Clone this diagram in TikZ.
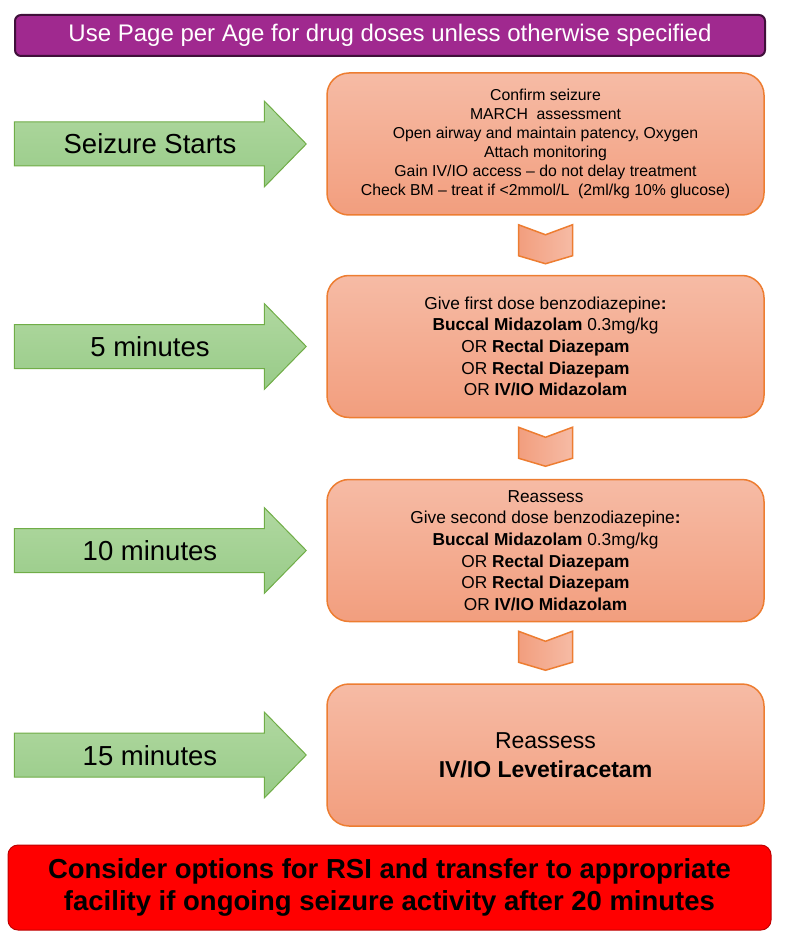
\documentclass[tikz,border=0pt]{standalone}
\usepackage{fontspec}
\setmainfont{Liberation Sans}
\usetikzlibrary{calc}
\definecolor{purplefill}{RGB}{160,41,143}
\definecolor{purpleborder}{RGB}{64,16,58}
\definecolor{boxtop}{RGB}{246,187,165}
\definecolor{boxbottom}{RGB}{242,158,126}
\definecolor{boxborder}{RGB}{237,125,49}
\definecolor{greentop}{RGB}{176,216,160}
\definecolor{greenbottom}{RGB}{152,203,136}
\definecolor{greenborder}{RGB}{112,173,71}
\definecolor{redborder}{RGB}{192,0,0}
\tikzset{
  topbar/.style={draw=purpleborder, line width=2pt, fill=purplefill, rounded corners=6pt,
    text=white, font=\fontsize{24}{26}\selectfont, minimum width=750pt, minimum height=41pt, inner sep=0pt},
  stepbox/.style={draw=boxborder, line width=1.5pt, top color=boxtop, bottom color=boxbottom,
    rounded corners=22pt, minimum width=437pt, minimum height=142pt, align=center, inner sep=0pt},
  timelabel/.style={font=\fontsize{27.5}{30}\selectfont, inner sep=0pt},
  redbox/.style={draw=redborder, line width=1pt, fill=red, rounded corners=10pt,
    minimum width=763pt, minimum height=85pt, align=center, inner sep=0pt,
    font=\bfseries\fontsize{27.5}{32}\selectfont},
  chevstyle/.style={draw=boxborder, line width=1.5pt, left color=boxbottom, right color=boxtop},
  arrowstyle/.style={draw=greenborder, line width=1pt, top color=greentop, bottom color=greenbottom}
}
\newcommand\chevron[1]{%
  \shadedraw[chevstyle] ($(#1.south)+(-27,9)$) -- ($(#1.south)+(0,19)$) -- ($(#1.south)+(27,9)$)
    -- ($(#1.south)+(27,40)$) -- ($(#1.south)+(0,48)$) -- ($(#1.south)+(-27,40)$) -- cycle;}
\newcommand\greenarrow[1]{%
  \shadedraw[arrowstyle] ($(#1.west)+(-312,-22)$) -- ($(#1.west)+(-62,-22)$) -- ($(#1.west)+(-62,-43)$)
    -- ($(#1.west)+(-20,0)$) -- ($(#1.west)+(-62,43)$) -- ($(#1.west)+(-62,22)$)
    -- ($(#1.west)+(-312,22)$) -- cycle;}
\begin{document}
\begin{tikzpicture}[x=1pt,y=-1pt]
\useasboundingbox (0,0) rectangle (784,941);
\node[topbar] (top) at (390,35.5) {Use Page per Age for drug doses unless otherwise specified};

\node[stepbox, font=\fontsize{15.8}{19}\selectfont] (b1) at (545.5,144) {Confirm seizure\\MARCH~ assessment\\Open airway and maintain patency, Oxygen\\Attach monitoring\\Gain IV/IO access -- do not delay treatment\\Check BM -- treat if <2mmol/L~ (2ml/kg 10\% glucose)};
\node[stepbox, font=\fontsize{17.3}{21.7}\selectfont] (b2) at (545.5,346.5) {Give first dose benzodiazepine\textbf{:}\\\textbf{Buccal Midazolam} 0.3mg/kg\\OR \textbf{Rectal Diazepam}\\OR \textbf{Rectal Diazepam}\\OR \textbf{IV/IO Midazolam}};
\node[stepbox, font=\fontsize{17.3}{21.7}\selectfont] (b3) at (545.5,550.5) {Reassess\\Give second dose benzodiazepine\textbf{:}\\\textbf{Buccal Midazolam} 0.3mg/kg\\OR \textbf{Rectal Diazepam}\\OR \textbf{Rectal Diazepam}\\OR \textbf{IV/IO Midazolam}};
\node[stepbox, font=\fontsize{23}{29}\selectfont] (b4) at (545.5,755) {Reassess\\\textbf{IV/IO Levetiracetam}};

\chevron{b1}
\chevron{b2}
\chevron{b3}

\greenarrow{b1}
\greenarrow{b2}
\greenarrow{b3}
\greenarrow{b4}

\node[timelabel] (t1) at (150,144) {Seizure Starts};
\node[timelabel] (t2) at (150,347) {5 minutes};
\node[timelabel] (t3) at (150,551) {10 minutes};
\node[timelabel] (t4) at (150,756) {15 minutes};

\node[redbox] (rsi) at (389.5,887.5) {Consider options for RSI and transfer to appropriate\\facility if ongoing seizure activity after 20 minutes};
\end{tikzpicture}
\end{document}
